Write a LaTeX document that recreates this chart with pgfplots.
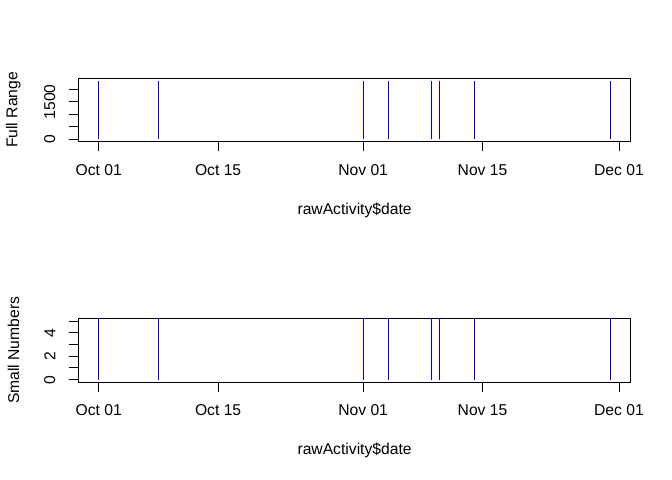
\documentclass[border=0pt]{standalone}
\usepackage{pgfplots}
\pgfplotsset{compat=1.18}
\usepackage{fontspec}
\setmainfont{Liberation Sans}
\begin{document}
\begin{tikzpicture}
\path[use as bounding box] (0,0) rectangle (504bp,360bp);
\pgfplotsset{rplot/.style={
  scale only axis, width=414.5bp, height=47.55bp,
  xmin=-2.4, xmax=62.4,
  axis line style={line width=0.75bp},
  every tick/.style={black, line width=0.75bp},
  tick align=outside, major tick length=7.2bp,
  xtick pos=bottom, ytick pos=left,
  xtick={0,14,31,45,61},
  xticklabels={Oct 01,Oct 15,Nov 01,Nov 15,Dec 01},
  tick label style={font=\fontsize{11.8}{13}\selectfont},
  label style={font=\fontsize{11.8}{13}\selectfont},
  xticklabel style={anchor=center, yshift=-14bp},
  yticklabel style={rotate=90, anchor=south, inner xsep=0pt, inner ysep=9.8bp},
  xlabel={rawActivity\$date},
  xlabel style={at={(axis description cs:0.5,-1.077)}, anchor=center},
  ylabel style={at={(axis description cs:-0.1173,0.5)}, anchor=center},
  clip=true,
  anchor=north west,
}}
\begin{axis}[rplot, at={(58.7bp,301.3bp)},
  ymin=-94.2, ymax=2449.2,
  ytick={0,500,1000,1500,2000}, yticklabels={0,,,1500,},
  ylabel={Full Range}]
\addplot[blue, ycomb, no marks, line width=0.75bp] coordinates {
(0,2355) (7,2355) (31,2355) (34,2355) (39,2355) (40,2355) (44,2355) (60,2355)};
\end{axis}
\begin{axis}[rplot, at={(58.7bp,121.0bp)},
  ymin=-0.2, ymax=5.2,
  ytick={0,1,2,3,4,5}, yticklabels={0,,2,,4,},
  ylabel={Small Numbers}]
\addplot[blue, ycomb, no marks, line width=0.75bp] coordinates {
(0,6) (7,6) (31,6) (34,6) (39,6) (40,6) (44,6) (60,6)};
\end{axis}
\end{tikzpicture}
\end{document}
